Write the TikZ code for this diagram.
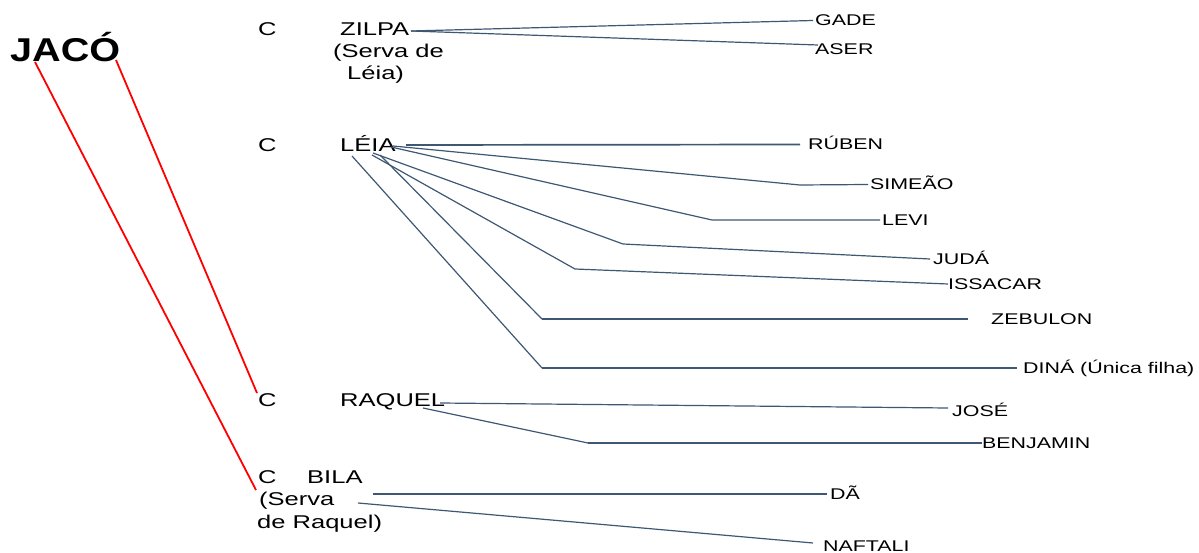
\documentclass[tikz,border=0pt]{standalone}
\usepackage{fontspec}
\setmainfont{Liberation Sans}[FakeStretch=1.38]
\newfontfamily\jacofont{Liberation Sans}[FakeStretch=1.2]
\definecolor{linkc}{RGB}{62,88,115}
\begin{document}
\begin{tikzpicture}[x=1pt,y=-1pt,
  par/.style={anchor=base west,inner sep=0pt,font=\fontsize{18.5}{22}\selectfont},
  kid/.style={anchor=west,inner sep=0pt,text height=11pt,text depth=0pt,font=\fontsize{15.5}{18}\selectfont},
  link/.style={draw=linkc,line width=1.2pt},
  thicklink/.style={draw=linkc,line width=1.7pt},
  redlink/.style={draw=red,line width=1.8pt}]
\useasboundingbox (0,0) rectangle (1199,553);
% Jacob
\node[anchor=base west,inner sep=0pt,font=\jacofont\bfseries\fontsize{33}{36}\selectfont] (jaco) at (10,62) {JACÓ};
% wives
\node[par] (cz) at (258,35.5) {C};
\node[par] (zilpa) at (340,35.5) {ZILPA};
\node[par] (zilpa2) at (333,58) {(Serva de};
\node[par] (zilpa3) at (347,80) {Léia)};
\node[par] (cl) at (258,152) {C};
\node[par] (leia) at (340,152) {LÉIA};
\node[par] (cr) at (258,406) {C};
\node[par] (raquel) at (340,406) {RAQUEL};
\node[par] (cb) at (258,483) {C};
\node[par] (bila) at (307,483) {BILA};
\node[par] (bila2) at (259,505) {(Serva};
\node[par] (bila3) at (257,528) {de Raquel)};
% children
\node[kid] (gade) at (815,20.5) {GADE};
\node[kid] (aser) at (815,49.5) {ASER};
\node[kid] (ruben) at (808,144.5) {RÚBEN};
\node[kid] (simeao) at (870,184.5) {SIMEÃO};
\node[kid] (levi) at (882,220) {LEVI};
\node[kid] (juda) at (933,259) {JUDÁ};
\node[kid] (issacar) at (948,284) {ISSACAR};
\node[kid] (zebulon) at (991,319) {ZEBULON};
\node[kid] (dina) at (1023,368) {DINÁ (Única filha)};
\node[kid] (jose) at (952,411) {JOSÉ};
\node[kid] (benjamin) at (982,443) {BENJAMIN};
\node[kid] (da) at (830,494) {DÃ};
\node[kid] (naftali) at (823,546) {NAFTALI};
% connector points
\coordinate (jacoL) at (35,62);
\coordinate (jacoR) at (116,60);
\coordinate (toRaquel) at (257,393);
\coordinate (toBila) at (256,490);
\coordinate (zilpaO) at (411,31);
\coordinate (leiaA) at (406,145);
\coordinate (leiaB) at (393,146);
\coordinate (leiaB2) at (391,147);
\coordinate (leiaC) at (373,153);
\coordinate (leiaC2) at (372,155);
\coordinate (leiaD) at (380,155);
\coordinate (leiaE) at (352,156);
\coordinate (eSim) at (800,185);
\coordinate (eLev) at (712,220);
\coordinate (eJud) at (623,244);
\coordinate (eIss) at (575,269);
\coordinate (eZeb) at (542,319);
\coordinate (eDin) at (542,368);
\coordinate (raqA) at (440,403);
\coordinate (raqB) at (423,408);
\coordinate (eBen) at (588,443);
\coordinate (bilaA) at (373,494);
\coordinate (bilaB) at (358,503);
% red lines
\draw[redlink] (jacoR) -- (toRaquel);
\draw[redlink] (jacoL) -- (toBila);
% Zilpa
\draw[link] (zilpaO) -- ([xshift=-2pt]gade.west);
\draw[link] (zilpaO) -- ([xshift=3pt,yshift=4.5pt]aser.west);
% Leia
\draw[thicklink] (leiaA) -- ([xshift=-8pt]ruben.west);
\draw[link] (leiaB) -- (eSim) -- ([xshift=-2pt]simeao.west);
\draw[link] (leiaB2) -- (eLev) -- ([xshift=-2pt]levi.west);
\draw[link] (leiaC) -- (eJud) -- ([xshift=-3pt]juda.west);
\draw[link] (leiaC2) -- (eIss) -- (issacar.west);
\draw[link] (leiaD) -- (eZeb);
\draw[thicklink] (eZeb) -- ([xshift=-23pt]zebulon.west);
\draw[link] (leiaE) -- (eDin);
\draw[thicklink] (eDin) -- ([xshift=-6pt]dina.west);
% Raquel
\draw[link] (raqA) -- ([xshift=-4pt,yshift=3pt]jose.west);
\draw[link] (raqB) -- (eBen);
\draw[thicklink] (eBen) -- (benjamin.west);
% Bila
\draw[thicklink] (bilaA) -- ([xshift=-3pt]da.west);
\draw[link] (bilaB) -- ([xshift=-10pt,yshift=3pt]naftali.west);
\end{tikzpicture}
\end{document}
